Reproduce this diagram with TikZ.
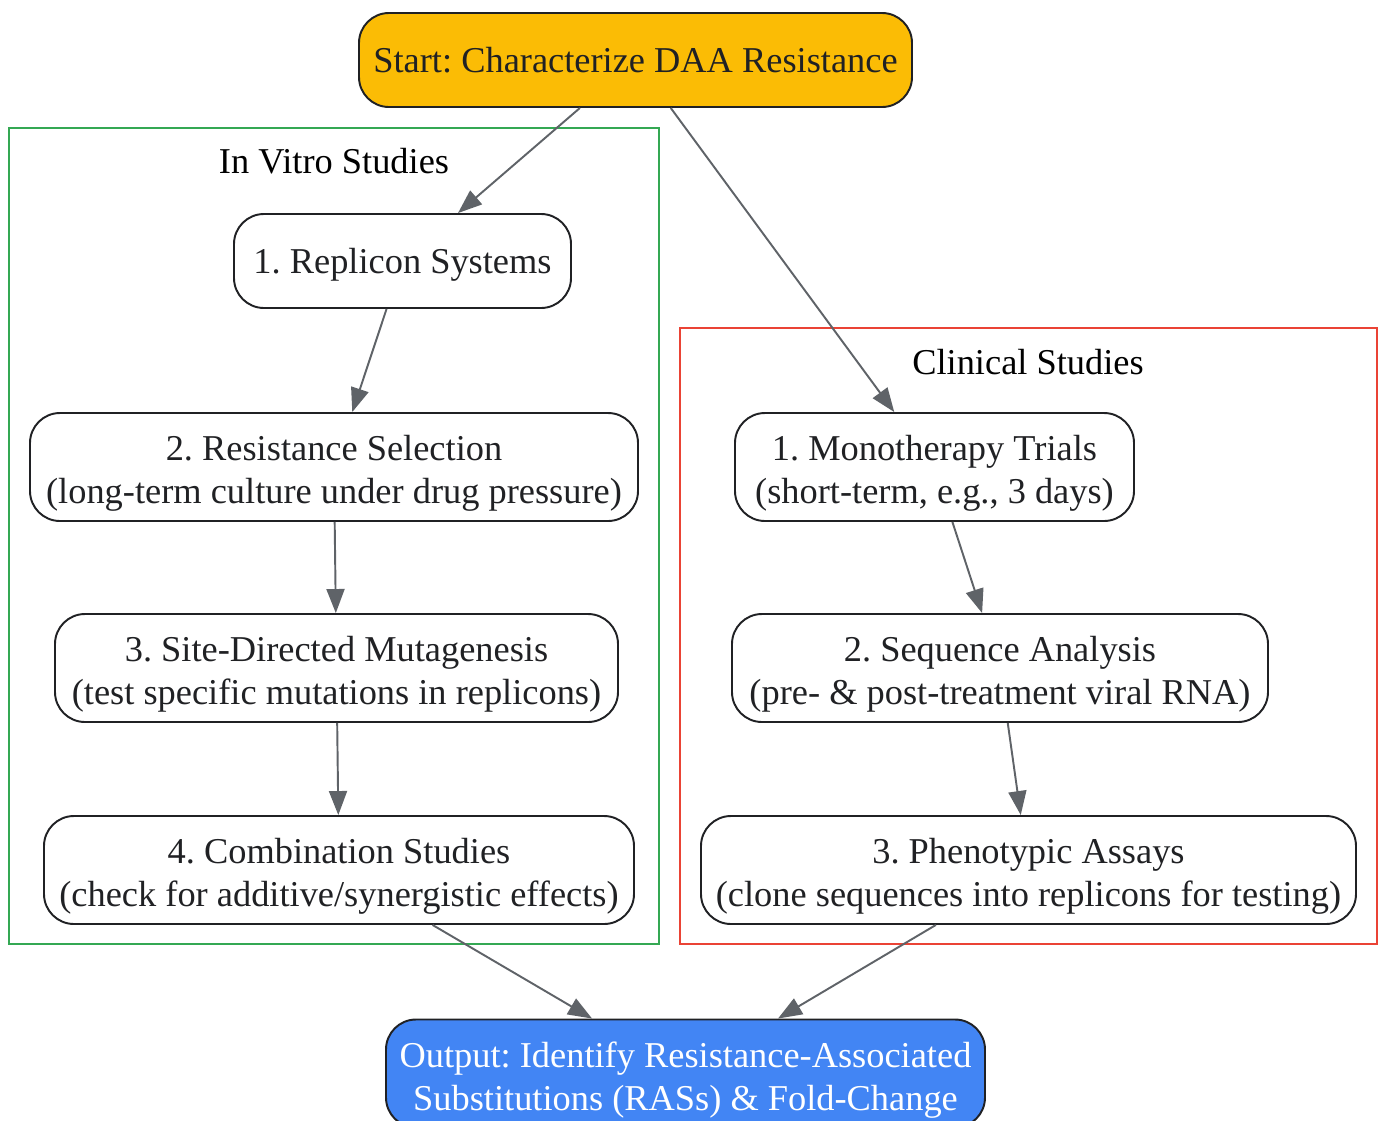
\documentclass[tikz,border=0pt]{standalone}
\usepackage{fontspec}
\setmainfont{Liberation Serif}
\usepackage{tikz}
\usetikzlibrary{arrows.meta}
\definecolor{gGold}{HTML}{FBBC05}
\definecolor{gBlue}{HTML}{4285F4}
\definecolor{gGreen}{HTML}{34A853}
\definecolor{gRed}{HTML}{EA4335}
\definecolor{gEdge}{HTML}{5F6368}
\definecolor{gInk}{HTML}{202124}
\newcommand{\gvstrut}{\rule[-0.216em]{0pt}{1.107em}}
\newcommand{\gvtopstrut}{\rule[-0.216em]{0pt}{1.278em}}
\begin{document}
\frenchspacing
\begin{tikzpicture}[
  font=\fontsize{20.7}{24.4}\selectfont,
  box/.style={draw=gInk, line width=1.1pt, rounded corners=0.6cm, text=gInk,
    align=center, inner sep=0pt, minimum height=1.88cm,
    execute at begin node=\gvstrut, execute at end node=\gvstrut},
  twoline/.style={box, minimum height=2.16cm},
  flow/.style={draw=gEdge, line width=1.1pt, -{Triangle[length=0.48cm,width=0.36cm]}},
  cluster/.style={line width=1.1pt}
]
\useasboundingbox (0,0) rectangle (27.64,-22.42);
\draw[cluster, draw=gGreen] (0.18,-2.56) rectangle (13.18,-18.88);
\draw[cluster, draw=gRed] (13.6,-6.56) rectangle (27.54,-18.88);
\node (vitrolabel) at (6.68,-3.22) {\gvstrut In Vitro Studies};
\node (cliniclabel) at (20.56,-7.24) {\gvstrut Clinical Studies};

\node[box, fill=gGold, minimum width=11.06cm] (start) at (12.71,-1.2) {Start: Characterize DAA Resistance};

\node[box, minimum width=6.74cm] (rep) at (8.05,-5.22) {1. Replicon Systems};
\node[twoline, minimum width=12.16cm] (sel) at (6.68,-9.34) {\gvtopstrut 2. Resistance Selection\\(long-term culture under drug pressure)};
\node[twoline, minimum width=11.26cm] (sdm) at (6.73,-13.36) {\gvtopstrut 3. Site-Directed Mutagenesis\\(test specific mutations in replicons)};
\node[twoline, minimum width=11.8cm] (comb) at (6.78,-17.4) {\gvtopstrut 4. Combination Studies\\(check for additive/synergistic effects)};

\node[twoline, minimum width=7.98cm] (mono) at (18.69,-9.34) {\gvtopstrut 1. Monotherapy Trials\\(short-term, e.g., 3 days)};
\node[twoline, minimum width=10.72cm] (seq) at (20.0,-13.36) {\gvtopstrut 2. Sequence Analysis\\(pre- \& post-treatment viral RNA)};
\node[twoline, minimum width=13.1cm] (pheno) at (20.57,-17.4) {\gvtopstrut 3. Phenotypic Assays\\(clone sequences into replicons for testing)};

\node[twoline, fill=gBlue, text=white, minimum width=11.98cm] (out) at (13.71,-21.47) {\gvtopstrut Output: Identify Resistance-Associated\\Substitutions (RASs) \& Fold-Change};

\draw[flow] (start) -- (rep);
\draw[flow] (start) -- (mono);
\draw[flow] (rep) -- (sel);
\draw[flow] (sel) -- (sdm);
\draw[flow] (sdm) -- (comb);
\draw[flow] (mono) -- (seq);
\draw[flow] (seq) -- (pheno);
\draw[flow] (comb) -- (out);
\draw[flow] (pheno) -- (out);
\end{tikzpicture}
\end{document}
